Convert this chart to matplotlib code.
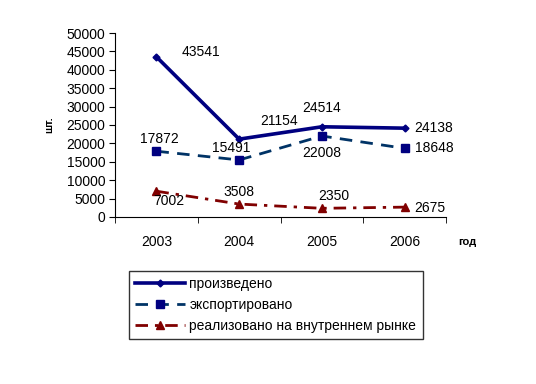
import numpy as np
import matplotlib.pyplot as plt

plt.rcParams['font.family'] = ['Liberation Sans', 'DejaVu Sans']

years = ['2003', '2004', '2005', '2006']
produced = [43541, 21154, 24514, 24138]
exported = [17872, 15491, 22008, 18648]
domestic = [7002, 3508, 2350, 2675]

x = np.arange(len(years))

fig = plt.figure(figsize=(5.36, 3.84), dpi=100)
ax = fig.add_axes([0.2146, 0.435, 0.6175, 0.479])

l1, = ax.plot(x, produced, color='#000080', lw=2.6, marker='D', ms=3.5, label='произведено')
l2, = ax.plot(x, exported, color='#003366', lw=2, ls=(0, (4.5, 3)), marker='s', ms=5.5,
              mfc='#000080', mec='#000080', label='экспортировано')
l3, = ax.plot(x, domestic, color='#800000', lw=2, ls=(0, (4.5, 2.5, 1.2, 2.5)), marker='^', ms=5.5,
              label='реализовано на внутреннем рынке')

# label offsets in pixels
off_p = [(45, 5, 'center'), (40, 18, 'center'), (0, 19, 'center'), (10, 0, 'left')]
off_e = [(3, 12, 'center'), (-8, 12, 'center'), (0, -17, 'center'), (10, 0, 'left')]
off_d = [(12, -10, 'center'), (0, 12, 'center'), (12, 12, 'center'), (10, -1, 'left')]
for vals, offs in [(produced, off_p), (exported, off_e), (domestic, off_d)]:
    for i, v in enumerate(vals):
        dx, dy, ha = offs[i]
        ax.annotate(str(v), (x[i], v), xytext=(dx, dy), textcoords='offset pixels',
                    ha=ha, va='center', fontsize=10)

ax.set_xlim(-0.5, 3.5)
ax.set_ylim(0, 50000)
ax.set_yticks(np.arange(0, 50001, 5000))
ax.set_xticks(x)
ax.set_xticklabels(years)
ax.set_xticks(np.arange(-0.5, 3.6, 1), minor=True)
ax.tick_params(axis='x', which='major', length=0, pad=13, labelsize=10)
ax.tick_params(axis='x', which='minor', length=4, direction='out')
ax.tick_params(axis='y', length=4, direction='out', labelsize=10, pad=3)
ax.spines['top'].set_visible(False)
ax.spines['right'].set_visible(False)

ax.set_ylabel('шт.', fontsize=8, fontweight='bold', labelpad=9)
fig.text(467 / 536, 1 - 242 / 384, 'год', fontsize=8, fontweight='bold', ha='center', va='center')

leg = fig.legend(handles=[l1, l2, l3], loc='upper left', bbox_to_anchor=(129 / 536, 1 - 271 / 384),
                 frameon=True, fancybox=False, edgecolor='black', fontsize=10,
                 handlelength=3.6, borderpad=0.45, labelspacing=0.5, handletextpad=0.3,
                 borderaxespad=0)
leg.get_frame().set_linewidth(1)

fig.savefig('out.png', dpi=100)
